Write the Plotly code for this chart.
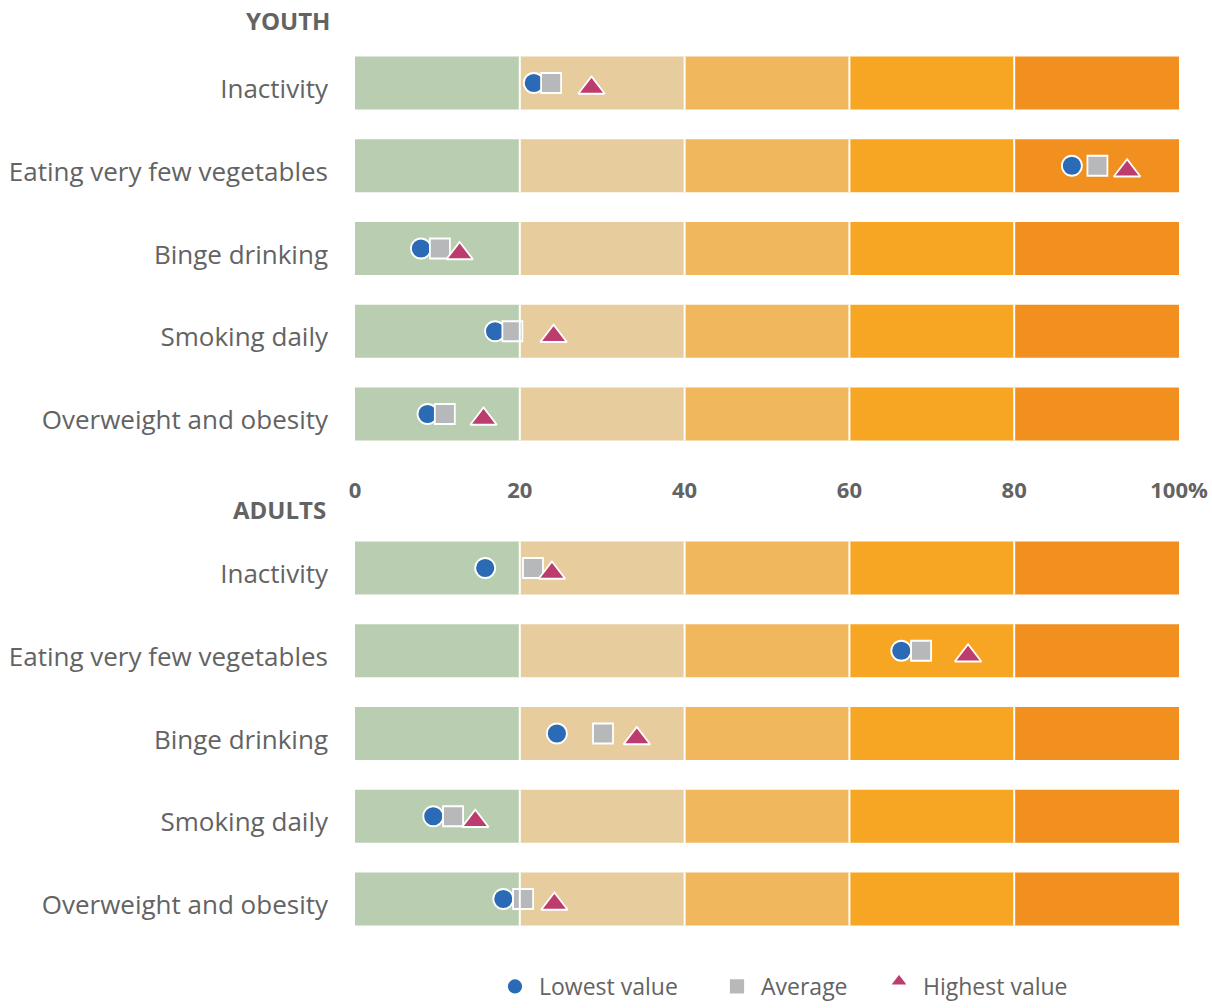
import plotly.graph_objects as go
from plotly.subplots import make_subplots

# Risk factors shown in each panel (top to bottom)
categories = [
    "Inactivity",
    "Eating very few vegetables",
    "Binge drinking",
    "Smoking daily",
    "Overweight and obesity",
]

# Youth: lowest, average and highest values (%)
youth_low = [21.7, 87.0, 8.0, 17.0, 8.8]
youth_avg = [23.8, 90.1, 10.3, 19.1, 10.9]
youth_high = [28.7, 93.7, 12.7, 24.1, 15.6]

# Adults: lowest, average and highest values (%)
adult_low = [15.8, 66.3, 24.5, 9.5, 18.0]
adult_avg = [21.6, 68.7, 30.1, 11.9, 20.4]
adult_high = [23.9, 74.4, 34.2, 14.6, 24.2]

# Background bands
band_edges = [0, 20, 40, 60, 80, 100]
band_colors = ["#B9CEB0", "#E7CC9E", "#F0B75C", "#F6A623", "#F18F1F"]

tick_vals = [0, 20, 40, 60, 80, 100]
tick_text = ["0", "20", "40", "60", "80", "100%"]

FONT = "Open Sans"
TEXT_GRAY = "#636363"
BAR_WIDTH = 0.64
W, H = 1212, 1008
PLOT_L, PLOT_W = 355, 824

fig = make_subplots(rows=2, cols=1, vertical_spacing=0.05)

for row in (1, 2):
    for i, color in enumerate(band_colors):
        fig.add_trace(
            go.Bar(
                y=categories,
                x=[band_edges[i + 1] - band_edges[i]] * len(categories),
                base=[band_edges[i]] * len(categories),
                orientation="h",
                width=BAR_WIDTH,
                marker=dict(color=color, line=dict(width=0)),
                showlegend=False,
                hoverinfo="skip",
            ),
            row=row, col=1,
        )

# name, symbol, size, colour, downward offset, legend id, legend left edge (px)
series_style = [
    ("Lowest value", "circle", 20, "#2B6BB5", 0, "legend", 491),
    ("Average", "square", 20, "#B7B8BA", 0, "legend2", 713),
    ("Highest value", "triangle-up", 23, "#BC3C6E", 5, "legend3", 875),
]
panel_data = [
    (youth_low, youth_avg, youth_high),
    (adult_low, adult_avg, adult_high),
]

for row, values in enumerate(panel_data, start=1):
    for (name, symbol, size, color, standoff, leg, _), xs in zip(series_style, values):
        fig.add_trace(
            go.Scatter(
                x=xs,
                y=categories,
                mode="markers",
                name=name,
                legend=leg,
                legendgroup=name,
                showlegend=(row == 1),
                marker=dict(
                    symbol=symbol,
                    size=size,
                    color=color,
                    standoff=standoff,
                    line=dict(color="white", width=1.8),
                ),
            ),
            row=row, col=1,
        )

# White separators between the bands on every bar
shapes = []
for yref in ("y", "y2"):
    xref = "x" if yref == "y" else "x2"
    for idx in range(len(categories)):
        for edge in band_edges[1:-1]:
            shapes.append(
                dict(
                    type="line",
                    xref=xref, yref=yref,
                    x0=edge, x1=edge,
                    y0=idx - BAR_WIDTH / 2, y1=idx + BAR_WIDTH / 2,
                    line=dict(color="white", width=2),
                    layer="above",
                )
            )

top_dom = [1 - 455.4 / H, 1 - 41.6 / H]
bot_dom = [1 - 940.4 / H, 1 - 526.6 / H]

yaxis_common = dict(
    autorange="reversed",
    showgrid=False,
    zeroline=False,
    showline=False,
    ticks="",
    ticklabelstandoff=26,
    ticklabelshift=-6,
    tickfont=dict(family=FONT, size=26, color=TEXT_GRAY),
)

legend_common = dict(
    orientation="h",
    xanchor="left",
    yanchor="bottom",
    y=0,
    itemwidth=38,
    bgcolor="rgba(0,0,0,0)",
    font=dict(family=FONT, size=23, color=TEXT_GRAY),
    itemsizing="trace",
)
legends = {
    leg: dict(x=(left - PLOT_L) / PLOT_W, **legend_common)
    for (_, _, _, _, _, leg, left) in series_style
}

fig.update_layout(
    width=W,
    height=H,
    margin=dict(l=PLOT_L, r=W - PLOT_L - PLOT_W, t=0, b=0),
    paper_bgcolor="white",
    plot_bgcolor="white",
    barmode="overlay",
    shapes=shapes,
    xaxis=dict(
        range=[0, 100],
        tickvals=tick_vals,
        ticktext=tick_text,
        showgrid=False,
        zeroline=False,
        showline=False,
        ticks="",
        ticklabelstandoff=20,
        tickfont=dict(family=FONT, size=22, color=TEXT_GRAY, weight="bold"),
    ),
    xaxis2=dict(
        range=[0, 100],
        showticklabels=False,
        showgrid=False,
        zeroline=False,
        showline=False,
        ticks="",
    ),
    yaxis=dict(domain=top_dom, **yaxis_common),
    yaxis2=dict(domain=bot_dom, **yaxis_common),
    annotations=[
        dict(
            text="<b>YOUTH</b>",
            xref="paper", yref="paper",
            x=(332 - PLOT_L) / PLOT_W, y=1 - 20 / H,
            xanchor="right", yanchor="middle",
            showarrow=False,
            font=dict(family=FONT, size=24, color=TEXT_GRAY),
        ),
        dict(
            text="<b>ADULTS</b>",
            xref="paper", yref="paper",
            x=(328 - PLOT_L) / PLOT_W, y=1 - 509 / H,
            xanchor="right", yanchor="middle",
            showarrow=False,
            font=dict(family=FONT, size=24, color=TEXT_GRAY),
        ),
    ],
    **legends,
)

fig.write_html("out.html")
